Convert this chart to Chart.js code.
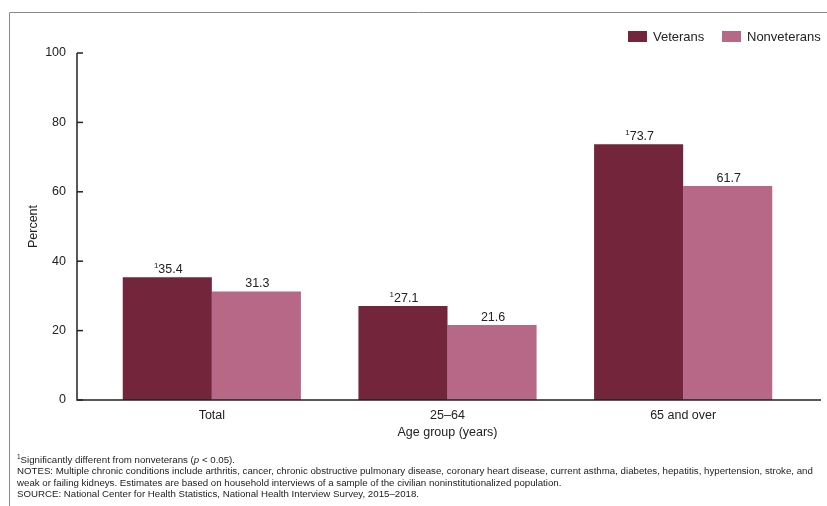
<!DOCTYPE html>
<html>
<head>
<meta charset="utf-8">
<script src="https://cdn.jsdelivr.net/npm/chart.js@4.4.0/dist/chart.umd.min.js"></script>
<style>
  html, body { margin: 0; padding: 0; background: #fff; }
  #wrap { width: 827px; height: 506px; }
</style>
</head>
<body>
<div id="wrap"><canvas id="chart" width="827" height="506"></canvas></div>
<script>
// data
var ageGroups = ['Total', '25\u201364', '65 and over'];
var veterans = [35.4, 27.1, 73.7];
var nonveterans = [31.3, 21.6, 61.7];
var yTicks = [0, 20, 40, 60, 80, 100];
var seriesNames = ['Veterans', 'Nonveterans'];
var footnotes = [
  'NOTES: Multiple chronic conditions include arthritis, cancer, chronic obstructive pulmonary disease, coronary heart disease, current asthma, diabetes, hepatitis, hypertension, stroke, and',
  'weak or failing kidneys. Estimates are based on household interviews of a sample of the civilian noninstitutionalized population.',
  'SOURCE: National Center for Health Statistics, National Health Interview Survey, 2015\u20132018.'
];

var FONT = '"Liberation Sans", Arial, sans-serif';
var colors = ['#73253b', '#b76886'];

// 框線、座標軸、數值標籤、圖例、註解
var extras = {
  id: 'extras',
  afterDraw: function (chart) {
    var ctx = chart.ctx;
    var y = chart.scales.y;
    ctx.save();

    // 外框
    ctx.strokeStyle = '#8a8a8a';
    ctx.lineWidth = 1;
    ctx.beginPath();
    ctx.moveTo(9.5, 506);
    ctx.lineTo(9.5, 12.5);
    ctx.lineTo(827, 12.5);
    ctx.stroke();

    // 座標軸
    var ax = 77;
    var y0 = y.getPixelForValue(0);
    var y100 = y.getPixelForValue(100);
    ctx.strokeStyle = '#222';
    ctx.lineWidth = 1.5;
    ctx.beginPath();
    ctx.moveTo(ax, y100);
    ctx.lineTo(ax, y0);
    ctx.lineTo(821, y0);
    ctx.stroke();
    yTicks.forEach(function (v) {
      var py = y.getPixelForValue(v);
      ctx.beginPath();
      ctx.moveTo(ax, py);
      ctx.lineTo(ax + 6, py);
      ctx.stroke();
    });

    // 數值標籤
    ctx.fillStyle = '#222';
    ctx.textBaseline = 'alphabetic';
    chart.data.datasets.forEach(function (ds, di) {
      var meta = chart.getDatasetMeta(di);
      meta.data.forEach(function (bar, i) {
        var txt = ds.data[i].toFixed(1);
        ctx.font = '12.5px ' + FONT;
        var w = ctx.measureText(txt).width;
        var sw = 0;
        if (di === 0) {
          ctx.font = '8px ' + FONT;
          sw = ctx.measureText('1').width;
        }
        var left = bar.x - (w + sw) / 2 + 1;
        var base = bar.y - 4;
        if (di === 0) {
          ctx.font = '8px ' + FONT;
          ctx.textAlign = 'left';
          ctx.fillText('1', left, base - 5);
        }
        ctx.font = '12.5px ' + FONT;
        ctx.textAlign = 'left';
        ctx.fillText(txt, left + sw, base);
      });
    });

    // 圖例
    var lx = [628, 722];
    seriesNames.forEach(function (name, i) {
      ctx.fillStyle = colors[i];
      ctx.fillRect(lx[i], 31, 19, 11);
      ctx.fillStyle = '#222';
      ctx.font = '13px ' + FONT;
      ctx.textAlign = 'left';
      ctx.textBaseline = 'middle';
      ctx.fillText(name, lx[i] + 25, 37);
    });

    // 註解
    ctx.textBaseline = 'alphabetic';
    ctx.textAlign = 'left';
    ctx.fillStyle = '#222';
    var fx = 17;
    var fs = '9.7px ';
    ctx.font = '6.5px ' + FONT;
    ctx.fillText('1', fx, 459);
    var x1 = fx + ctx.measureText('1').width;
    ctx.font = fs + FONT;
    var s1 = 'Significantly different from nonveterans (';
    ctx.fillText(s1, x1, 463);
    x1 += ctx.measureText(s1).width;
    ctx.font = 'italic ' + fs + FONT;
    ctx.fillText('p', x1, 463);
    x1 += ctx.measureText('p').width;
    ctx.font = fs + FONT;
    ctx.fillText(' < 0.05).', x1, 463);
    var fy = [474, 485.5, 497];
    footnotes.forEach(function (t, i) {
      ctx.fillText(t, fx, fy[i]);
    });

    ctx.restore();
  }
};

new Chart(document.getElementById('chart'), {
  type: 'bar',
  data: {
    labels: ageGroups,
    datasets: [{
      label: seriesNames[0],
      data: veterans,
      backgroundColor: colors[0],
      borderWidth: 0
    }, {
      label: seriesNames[1],
      data: nonveterans,
      backgroundColor: colors[1],
      borderWidth: 0
    }]
  },
  plugins: [extras],
  options: {
    responsive: false,
    animation: false,
    layout: { padding: { top: 53, right: 26, bottom: 66, left: 0 } },
    datasets: { bar: { categoryPercentage: 0.756, barPercentage: 1 } },
    plugins: { legend: { display: false }, tooltip: { enabled: false } },
    scales: {
      y: {
        min: 0,
        max: 100,
        afterFit: function (s) { s.width = 94; },
        afterBuildTicks: function (s) { s.ticks = yTicks.map(function (v) { return { value: v }; }); },
        grid: { display: false },
        border: { display: false },
        ticks: { color: '#222', padding: 20, font: { family: FONT, size: 12.5 } },
        title: {
          display: true,
          text: 'Percent',
          color: '#222',
          padding: { top: 26, bottom: 0 },
          font: { family: FONT, size: 12.5 }
        }
      },
      x: {
        afterFit: function (s) { s.height = 40; },
        grid: { display: false },
        border: { display: false },
        ticks: { color: '#222', padding: 0, font: { family: FONT, size: 12.5 } },
        title: {
          display: true,
          text: 'Age group (years)',
          color: '#222',
          padding: { top: 0, bottom: 0 },
          font: { family: FONT, size: 12.5 }
        }
      }
    }
  }
});
</script>
</body>
</html>
